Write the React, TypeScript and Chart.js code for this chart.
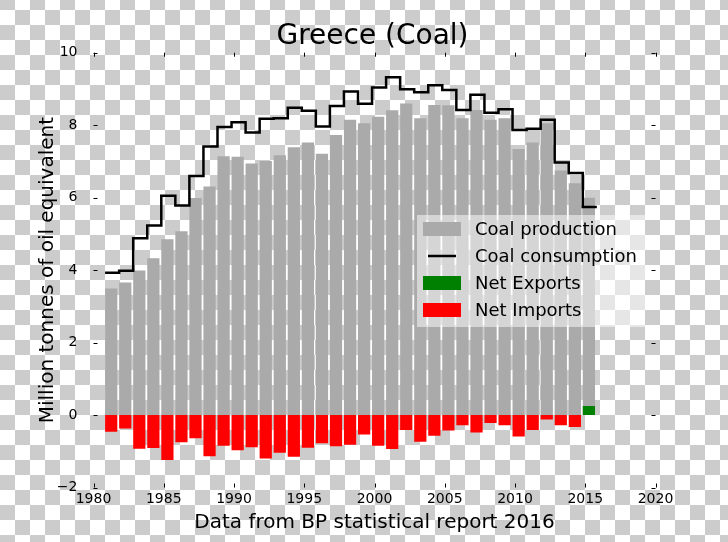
import React, { useEffect, useRef } from 'react';
import { Chart, registerables } from 'chart.js';

Chart.register(...registerables);

const chartTitle = 'Greece (Coal)';
const xAxisTitle = 'Data from BP statistical report 2016';
const yAxisTitle = 'Million tonnes of oil equivalent';

const years = [
  1981, 1982, 1983, 1984, 1985, 1986, 1987, 1988, 1989, 1990,
  1991, 1992, 1993, 1994, 1995, 1996, 1997, 1998, 1999, 2000,
  2001, 2002, 2003, 2004, 2005, 2006, 2007, 2008, 2009, 2010,
  2011, 2012, 2013, 2014, 2015,
];

const coalProduction = [
  3.49, 3.66, 3.99, 4.33, 4.85, 5.07, 5.99, 6.31, 7.14, 7.13,
  6.94, 7.01, 7.17, 7.39, 7.52, 7.21, 7.73, 8.15, 8.05, 8.23,
  8.41, 8.60, 8.19, 8.56, 8.55, 8.19, 8.42, 8.15, 8.19, 7.34,
  7.52, 8.05, 6.75, 6.40, 6.00,
];

const coalConsumption = [
  3.93, 3.98, 4.88, 5.23, 6.05, 5.78, 6.60, 7.41, 7.95, 8.08,
  7.80, 8.18, 8.19, 8.48, 8.40, 7.96, 8.53, 8.93, 8.59, 9.04,
  9.32, 8.99, 8.91, 9.10, 8.97, 8.42, 8.84, 8.34, 8.44, 7.87,
  7.90, 8.15, 6.97, 6.68, 5.74,
];

const netImportYears = [
  1981, 1982, 1983, 1984, 1985, 1986, 1987, 1988, 1989, 1990,
  1991, 1992, 1993, 1994, 1995, 1996, 1997, 1998, 1999, 2000,
  2001, 2002, 2003, 2004, 2005, 2006, 2007, 2008, 2009, 2010,
  2011, 2012, 2013, 2014,
];
const netImports = [
  -0.46, -0.37, -0.93, -0.91, -1.24, -0.75, -0.64, -1.14, -0.85, -0.97,
  -0.89, -1.20, -1.04, -1.15, -0.90, -0.78, -0.86, -0.82, -0.54, -0.85,
  -0.94, -0.41, -0.74, -0.57, -0.43, -0.28, -0.48, -0.22, -0.28, -0.59,
  -0.41, -0.12, -0.28, -0.33,
];

const netExportYears = [2015];
const netExports = [0.25];

const xMin = 1980;
const xMax = 2020;
const xStep = 5;
const yMin = -2;
const yMax = 10;
const yStep = 2;

const legendLabels = ['Coal production', 'Coal consumption', 'Net Exports', 'Net Imports'];

const FONT = "'DejaVu Sans', 'Liberation Sans', sans-serif";
const BAR_SHIFT = 0.26;
const STEP_SHIFT = -0.175;

const decorPlugin = {
  id: 'decor',
  afterDatasetsDraw(chart: any) {
    const ctx = chart.ctx as CanvasRenderingContext2D;
    const { left, right, top, bottom } = chart.chartArea;
    const xs = chart.scales.x;
    const ys = chart.scales.y;
    ctx.save();
    // inward ticks on all four sides
    ctx.strokeStyle = '#000';
    ctx.lineWidth = 1;
    ctx.beginPath();
    ys.ticks.forEach((t: any) => {
      const py = Math.round(ys.getPixelForValue(t.value)) + 0.5;
      ctx.moveTo(left, py);
      ctx.lineTo(left + 4, py);
      ctx.moveTo(right, py);
      ctx.lineTo(right - 4, py);
    });
    xs.ticks.forEach((t: any) => {
      const px = Math.round(xs.getPixelForValue(t.value)) + 0.5;
      ctx.moveTo(px, bottom);
      ctx.lineTo(px, bottom - 4);
      ctx.moveTo(px, top);
      ctx.lineTo(px, top + 4);
    });
    ctx.stroke();

    // title
    ctx.fillStyle = '#000';
    ctx.font = `28px ${FONT}`;
    ctx.textAlign = 'center';
    ctx.textBaseline = 'middle';
    ctx.fillText(chartTitle, (left + right) / 2 - 2, 37);

    // legend
    const lx = 417;
    const ly = 215;
    const lw = 228;
    const lh = 112;
    ctx.fillStyle = 'rgba(255,255,255,0.5)';
    ctx.fillRect(lx, ly, lw, lh);
    const rowY = [229, 256, 283, 310];
    const colors = ['#aaaaaa', '#000000', '#008000', '#ff0000'];
    ctx.font = `18px ${FONT}`;
    ctx.textAlign = 'left';
    ctx.textBaseline = 'middle';
    legendLabels.forEach((label, i) => {
      const cy = rowY[i];
      if (i === 1) {
        ctx.strokeStyle = colors[i];
        ctx.lineWidth = 2.5;
        ctx.beginPath();
        ctx.moveTo(lx + 11, cy);
        ctx.lineTo(lx + 39, cy);
        ctx.stroke();
      } else {
        ctx.fillStyle = colors[i];
        ctx.fillRect(lx + 6, cy - 7, 38, 14);
      }
      ctx.fillStyle = '#000';
      ctx.fillText(label, lx + 58, cy + 1);
    });
    ctx.restore();
  },
};

export default function App() {
  const ref = useRef<HTMLCanvasElement>(null);

  useEffect(() => {
    const canvas = ref.current;
    if (!canvas) return;
    const consumptionPoints = years.map((y, i) => ({ x: y + STEP_SHIFT, y: coalConsumption[i] }));
    consumptionPoints.push({
      x: years[years.length - 1] + 1 + STEP_SHIFT,
      y: coalConsumption[coalConsumption.length - 1],
    });

    const barCommon = {
      grouped: false,
      barPercentage: 0.87,
      categoryPercentage: 1,
      borderWidth: 0,
    };

    const chart = new Chart(canvas, {
      type: 'bar',
      data: {
        datasets: [
          {
            type: 'line',
            label: legendLabels[1],
            data: consumptionPoints,
            borderColor: '#000000',
            borderWidth: 2.5,
            pointRadius: 0,
            stepped: 'before',
            fill: false,
            order: 0,
          } as any,
          {
            type: 'bar',
            label: legendLabels[0],
            data: years.map((y, i) => ({ x: y + BAR_SHIFT, y: coalProduction[i] })),
            backgroundColor: '#aaaaaa',
            order: 2,
            ...barCommon,
          },
          {
            type: 'bar',
            label: legendLabels[2],
            data: netExportYears.map((y, i) => ({ x: y + BAR_SHIFT, y: netExports[i] })),
            backgroundColor: '#008000',
            order: 1,
            ...barCommon,
          },
          {
            type: 'bar',
            label: legendLabels[3],
            data: netImportYears.map((y, i) => ({ x: y + BAR_SHIFT, y: netImports[i] })),
            backgroundColor: '#ff0000',
            order: 1,
            ...barCommon,
          },
        ],
      },
      options: {
        responsive: false,
        animation: false,
        devicePixelRatio: 1,
        layout: { padding: { left: 0, right: 72.5, top: 52.7, bottom: 0 } },
        plugins: {
          legend: { display: false },
          tooltip: { enabled: false },
          title: { display: false },
        },
        scales: {
          x: {
            type: 'linear',
            min: xMin,
            max: xMax,
            offset: false,
            grid: { display: false },
            border: { display: false },
            ticks: {
              stepSize: xStep,
              autoSkip: false,
              maxRotation: 0,
              padding: -5,
              color: '#000',
              font: { family: FONT, size: 14 },
              callback: (v: any) => String(v),
            },
            title: {
              display: true,
              text: xAxisTitle,
              color: '#000',
              font: { family: FONT, size: 20 },
              padding: { top: 0, bottom: 7 },
            },
            afterFit: (scale: any) => {
              scale.height = 54.5;
            },
          },
          y: {
            type: 'linear',
            min: yMin,
            max: yMax,
            grid: { display: false },
            border: { display: false },
            ticks: {
              stepSize: yStep,
              padding: 8,
              color: '#000',
              font: { family: FONT, size: 14 },
              callback: (v: any) => (v < 0 ? '\u2212' + Math.abs(v) : String(v)),
            },
            title: {
              display: true,
              text: yAxisTitle,
              color: '#000',
              font: { family: FONT, size: 20 },
              padding: { top: 36, bottom: 0 },
            },
            afterFit: (scale: any) => {
              scale.width = 93.5;
            },
          },
        },
      },
      plugins: [decorPlugin],
    });
    return () => chart.destroy();
  }, []);

  return (
    <div
      style={{
        position: 'absolute',
        left: 0,
        top: 0,
        width: 728,
        height: 542,
        backgroundColor: '#ffffff',
        backgroundImage: 'repeating-conic-gradient(#cccccc 0% 25%, #ffffff 0% 50%)',
        backgroundSize: '30px 30px',
        backgroundPosition: '0px 10px',
      }}
    >
      <canvas ref={ref} width={728} height={542} style={{ display: 'block' }} />
    </div>
  );
}
